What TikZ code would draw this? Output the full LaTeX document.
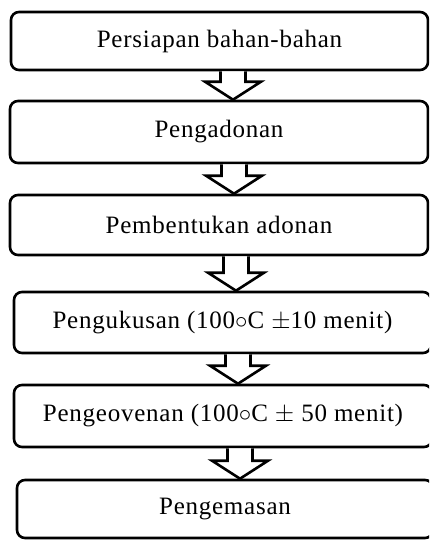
\documentclass[tikz,border=0pt]{standalone}
\usepackage{fontspec}
\setmainfont{Liberation Serif}[LetterSpace=3]
\usetikzlibrary{calc}
\tikzset{
  stepbox/.style={draw=black, line width=2.6pt, rounded corners=8pt, fill=white,
    font=\fontsize{25}{29}\selectfont, inner sep=0pt},
  flowarrow/.style={draw=black, line width=2.6pt, fill=white, line join=miter, miter limit=10}
}
\begin{document}
\begin{tikzpicture}[x=1pt, y=-1pt]
  \useasboundingbox (0,0) rectangle (429,541);
  \clip (0,0) rectangle (429,541);
  % process steps
  \node[stepbox, minimum width=417pt, minimum height=58pt] (b1) at (219.5,41) {Persiapan bahan-bahan};
  \node[stepbox, minimum width=418pt, minimum height=62pt] (b2) at (219,132) {Pengadonan};
  \node[stepbox, minimum width=418pt, minimum height=60pt] (b3) at (219,225) {Pembentukan adonan};
  \node[stepbox, minimum width=417pt, minimum height=61pt] (b4) at (222.5,322.5) {Pengukusan (100$\circ$C $\pm$10 menit)};
  \node[stepbox, minimum width=418pt, minimum height=62pt] (b5) at (223,416) {Pengeovenan (100$\circ$C $\pm$ 50 menit)};
  \node[stepbox, minimum width=416pt, minimum height=58pt] (b6) at (225,509) {Pengemasan};
  % hollow block arrows between the steps
  \foreach \a/\b/\x in {b1/b2/233, b2/b3/234, b3/b4/236, b4/b5/238, b5/b6/240} {
    \draw[flowarrow]
      ($(\x,0 |- \a.south)+(-12.5,0)$) -- ($(\x,0 |- \b.north)+(-12.5,-18)$)
      -- ++(-15.5,0) -- (\x,0 |- \b.north) -- ++(28,-18) -- ++(-15.5,0)
      -- ($(\x,0 |- \a.south)+(12.5,0)$);
  }
\end{tikzpicture}
\end{document}
